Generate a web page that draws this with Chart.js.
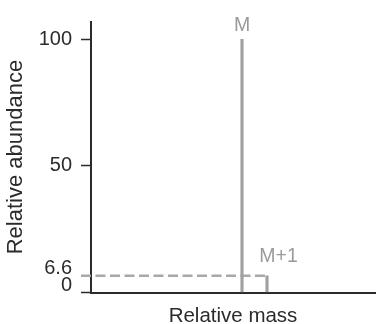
<!DOCTYPE html>
<html>
<head>
<meta charset="utf-8">
<script src="https://cdn.jsdelivr.net/npm/chart.js@4/dist/chart.umd.min.js"></script>
<style>
  html, body { margin: 0; padding: 0; background: #fff; }
  #wrap { width: 376px; height: 324px; }
</style>
</head>
<body>
<div id="wrap"><canvas id="c" width="376" height="324"></canvas></div>
<script>
// Isotope peaks: mass offset from the molecular ion and relative abundance
const peakLabels = ['M', 'M+1'];
const massOffsets = [0, 1];
const abundance = [100, 6.6];
const yTicks = [0, 6.6, 50, 100];
const xTitle = 'Relative mass';
const yTitle = 'Relative abundance';

const FONT = '"Liberation Sans", Arial, Helvetica, sans-serif';
const AXIS = '#2b2b2b';
const PEAK = '#a0a0a0';
const GUIDE = '#a8a8a8';

// Low ticks sit close together, so their labels are lifted slightly
const liftedTicks = [0, 6.6];

// Dashed guide from the axis to the M+1 peak, plus peak names
const peakAnnotations = {
  id: 'peakAnnotations',
  beforeDatasetsDraw(chart) {
    const { ctx, chartArea, scales: { x, y } } = chart;
    const px = x.getPixelForValue(massOffsets[1]);
    const py = y.getPixelForValue(abundance[1]);
    ctx.save();
    ctx.strokeStyle = GUIDE;
    ctx.lineWidth = 2.5;
    ctx.setLineDash([10, 4.5]);
    ctx.beginPath();
    ctx.moveTo(chartArea.left - 10, py);
    ctx.lineTo(px, py);
    ctx.stroke();
    ctx.restore();
  },
  afterDatasetsDraw(chart) {
    const { ctx, scales: { x, y } } = chart;
    const offsets = [{ dx: 0, dy: -14 }, { dx: 11.5, dy: -19 }];
    ctx.save();
    ctx.fillStyle = '#9a9a9a';
    ctx.font = '19.5px ' + FONT;
    ctx.textAlign = 'center';
    ctx.textBaseline = 'middle';
    peakLabels.forEach((name, i) => {
      const px = x.getPixelForValue(massOffsets[i]);
      const py = y.getPixelForValue(abundance[i]);
      ctx.fillText(name, px + offsets[i].dx, py + offsets[i].dy);
    });
    ctx.restore();
  }
};

new Chart(document.getElementById('c'), {
  type: 'bar',
  data: {
    datasets: [{
      data: massOffsets.map((m, i) => ({ x: m, y: abundance[i] })),
      backgroundColor: PEAK,
      borderWidth: 0,
      barThickness: 2.5
    }]
  },
  options: {
    responsive: false,
    devicePixelRatio: 1,
    animation: false,
    layout: { padding: { top: 21.7, right: 1, bottom: 0, left: 0 } },
    plugins: { legend: { display: false }, tooltip: { enabled: false } },
    scales: {
      x: {
        type: 'linear',
        min: -6.04,
        max: 5.32,
        offset: false,
        bounds: 'data',
        z: 1,
        ticks: { display: false },
        grid: { display: false, offset: false },
        border: { display: true, color: AXIS, width: 2 },
        title: {
          display: true,
          text: xTitle,
          color: AXIS,
          font: { family: FONT, size: 20.5, lineHeight: 1 },
          padding: { top: 0, bottom: -2.25 }
        },
        afterFit(scale) { scale.height = 31.5; }
      },
      y: {
        type: 'linear',
        min: 0,
        max: 107,
        z: 1,
        afterBuildTicks(scale) { scale.ticks = yTicks.map(v => ({ value: v })); },
        ticks: {
          autoSkip: false,
          padding: 9,
          color: AXIS,
          font(ctx) {
            const v = ctx.tick ? ctx.tick.value : null;
            return { family: FONT, size: 20, lineHeight: liftedTicks.includes(v) ? '15px' : 1.2 };
          },
          callback(value) {
            const text = String(value);
            return liftedTicks.includes(value) ? [text, ''] : text;
          }
        },
        grid: {
          display: true,
          drawOnChartArea: false,
          drawTicks: true,
          tickLength: 10,
          tickWidth: 1.5,
          tickColor(ctx) {
            return ctx.tick && ctx.tick.value === 6.6 ? 'rgba(0,0,0,0)' : AXIS;
          }
        },
        border: { display: true, color: AXIS, width: 2 },
        title: {
          display: true,
          text: yTitle,
          color: AXIS,
          font: { family: FONT, size: 22, lineHeight: 1.2 },
          padding: { top: 3, bottom: 0 }
        },
        afterFit(scale) { scale.width = 91; }
      }
    }
  },
  plugins: [peakAnnotations]
});
</script>
</body>
</html>
